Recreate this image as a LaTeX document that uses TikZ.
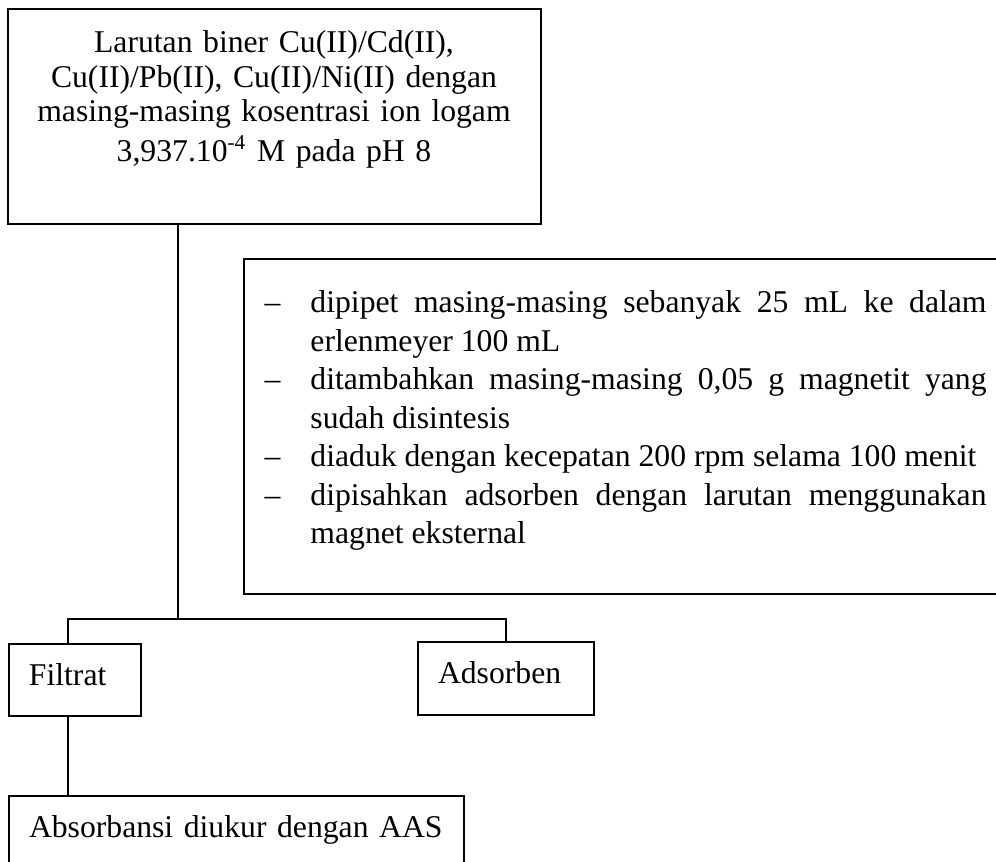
\documentclass[tikz,border=0pt]{standalone}
\usepackage{fontspec}
\setmainfont{Liberation Serif}
\newcommand{\pxu}{0.3788pt}
\newcommand{\butir}[1]{\par\hangindent=17.4pt\hangafter=1\noindent\strut\makebox[17.4pt][l]{–}#1}
\tikzstyle{kotak} = [draw, line width=0.8pt, inner sep=0pt]
\tikzstyle{isi}   = [kotak, inner xsep=7.6pt, inner ysep=0pt, align=left, text height=15.7pt, text depth=11.7pt, font=\fontsize{12}{14}\selectfont]
\tikzstyle{garis} = [line width=0.45pt]
\begin{document}
\begin{tikzpicture}[x=\pxu, y=\pxu]
\useasboundingbox (0,0) rectangle (996,-861);
\clip (0,0) rectangle (996,-861);

% larutan awal
\node[kotak, minimum width=533*\pxu, minimum height=215*\pxu] (larutan) at (274.5,-116.5) {};
\node[anchor=north, inner sep=0pt, text width=200pt, align=center, font=\fontsize{12}{13.1}\selectfont] (larutanteks) at (274,-27.8)
  {\strut Larutan biner Cu(II)/Cd(II),\\ Cu(II)/Pb(II), Cu(II)/Ni(II) dengan\\ masing-masing kosentrasi ion logam\\[1.8pt] 3,937.10\textsuperscript{-4} M pada pH 8};

% langkah perlakuan
\node[kotak, minimum width=766*\pxu, minimum height=335*\pxu] (catatan) at (627,-426.5) {};
\node[anchor=north west, inner sep=0pt, text width=273.5pt, align=justify, font=\fontsize{12}{14.55}\selectfont] (perlakuan) at (264,-274)
  {\hyphenpenalty=10000 \exhyphenpenalty=10000 \parskip=0pt
   \butir{dipipet masing-masing sebanyak 25 mL ke dalam erlenmeyer 100 mL}
   \butir{ditambahkan masing-masing 0,05 g magnetit yang sudah disintesis}
   \butir{diaduk dengan kecepatan 200 rpm selama 100 menit}
   \butir{dipisahkan adsorben dengan larutan menggunakan magnet eksternal}\par};

% hasil pemisahan
\node[isi, text width=34.9pt] (filtrat) at (75,-680) {Filtrat};
\node[isi, text width=51.5pt] (adsorben) at (506,-678.5) {Adsorben};
\node[isi, text width=157.2pt, text depth=22.7pt] (absorbansi) at (236.5,-847) {Absorbansi diukur dengan AAS};

% garis penghubung
\coordinate (cabang) at (178,-619);
\coordinate (cabangkiri) at (68,-619);
\draw[garis] (larutan.south -| cabang) -- (cabang);
\draw[garis] (filtrat.north -| cabangkiri) -- (cabangkiri) -| (adsorben.north);
\draw[garis] (filtrat.south -| cabangkiri) -- (absorbansi.north -| cabangkiri);

\end{tikzpicture}
\end{document}
